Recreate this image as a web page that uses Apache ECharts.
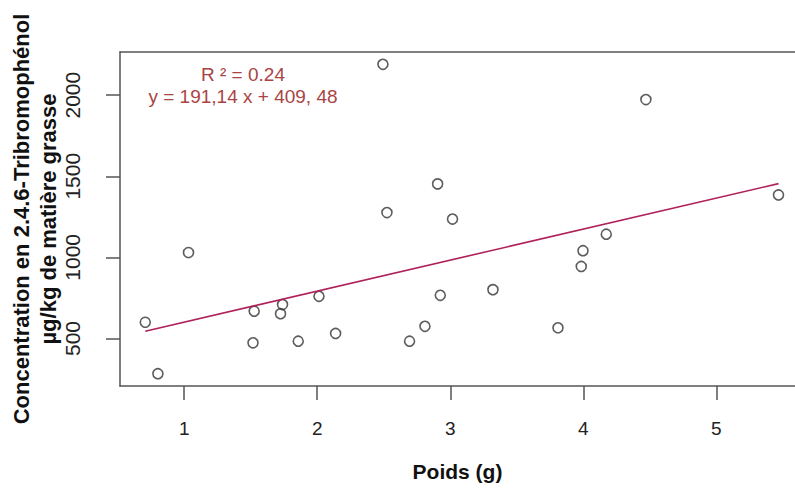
<!DOCTYPE html>
<html>
<head>
<meta charset="utf-8">
<script src="https://cdn.jsdelivr.net/npm/echarts@6/dist/echarts.min.js"></script>
<style>html,body{margin:0;padding:0;background:#fff}#c{width:795px;height:489px}</style>
</head>
<body>
<div id="c"></div>
<script>
// Data
const poids = [0.707, 0.802, 1.032, 1.526, 1.517, 1.739, 1.724, 1.857, 2.013, 2.138, 2.494, 2.524,
               2.694, 2.810, 2.905, 2.925, 3.017, 3.321, 3.810, 3.998, 3.985, 4.173, 4.471, 5.468];
const concentration = [600, 283, 1030, 668, 473, 709, 653, 483, 760, 531, 2190, 1276,
                       483, 575, 1453, 766, 1236, 801, 566, 1041, 944, 1143, 1973, 1385];
const xTicks = [1, 2, 3, 4, 5];
const yTicks = [500, 1000, 1500, 2000];
const slope = 191.14;
const intercept = 409.48;
const annotR2 = 'R ² = 0.24';
const annotEq = 'y = 191,14 x + 409, 48';
const xTitle = 'Poids (g)';
const yTitle = 'Concentration en 2.4.6-Tribromophénol\nµg/kg de matière grasse';

const points = poids.map((x, i) => [x, concentration[i]]);
const xMinData = Math.min(...poids), xMaxData = Math.max(...poids);
const fitLine = [[xMinData, slope * xMinData + intercept], [xMaxData, slope * xMaxData + intercept]];

const FONT = '"Liberation Sans", Arial, sans-serif';
const X_MIN = 0.517, X_MAX = 5.592;
const chart = echarts.init(document.getElementById('c'), null, {renderer: 'svg'});
chart.setOption({
  animation: false,
  backgroundColor: '#ffffff',
  grid: {left: 120, top: 52, width: 675, height: 334, show: false, containLabel: false, outerBoundsMode: 'none'},
  xAxis: [{
    type: 'value', min: X_MIN, max: X_MAX,
    name: xTitle, nameLocation: 'middle', nameGap: 75, nameMoveOverlap: false,
    nameTextStyle: {fontFamily: FONT, fontSize: 21, fontWeight: 'bold', color: '#111'},
    axisLine: {show: true, lineStyle: {color: '#555', width: 1.5}},
    axisTick: {show: true, inside: false, length: 14, lineStyle: {color: '#555', width: 1.5}, customValues: xTicks},
    axisLabel: {fontFamily: FONT, fontSize: 19, color: '#222', margin: 33, customValues: xTicks},
    splitLine: {show: false}
  }, {
    type: 'value', position: 'top', min: X_MIN, max: X_MAX,
    axisLine: {show: true, lineStyle: {color: '#555', width: 1.5}},
    axisTick: {show: false}, axisLabel: {show: false}, splitLine: {show: false}
  }],
  yAxis: {
    type: 'value', min: 207, max: 2266,
    name: yTitle, nameLocation: 'middle', nameRotate: 90, nameGap: 58, nameMoveOverlap: false,
    nameTextStyle: {fontFamily: FONT, fontSize: 22, fontWeight: 'bold', color: '#111', lineHeight: 27},
    axisLine: {show: true, lineStyle: {color: '#555', width: 1.5}},
    axisTick: {show: true, inside: false, length: 14, lineStyle: {color: '#555', width: 1.5}, customValues: yTicks},
    axisLabel: {fontFamily: FONT, fontSize: 21, color: '#222', margin: 37, rotate: 90, customValues: yTicks,
                formatter: v => String(v)},
    splitLine: {show: false}
  },
  series: [
    {
      type: 'scatter', data: points, symbol: 'circle', symbolSize: 10,
      itemStyle: {color: 'rgba(0,0,0,0)', borderColor: '#333', borderWidth: 1.6}
    },
    {
      type: 'line', data: fitLine, showSymbol: false, symbol: 'none',
      lineStyle: {color: '#b0205a', width: 1.6}
    }
  ],
  graphic: [
    {type: 'text', x: 243, y: 74, style: {text: annotR2, fontFamily: FONT, fontSize: 19, fill: '#a94444', textAlign: 'center', textVerticalAlign: 'middle'}},
    {type: 'text', x: 243, y: 96, style: {text: annotEq, fontFamily: FONT, fontSize: 19, fill: '#a94444', textAlign: 'center', textVerticalAlign: 'middle'}}
  ]
});
</script>
</body>
</html>
